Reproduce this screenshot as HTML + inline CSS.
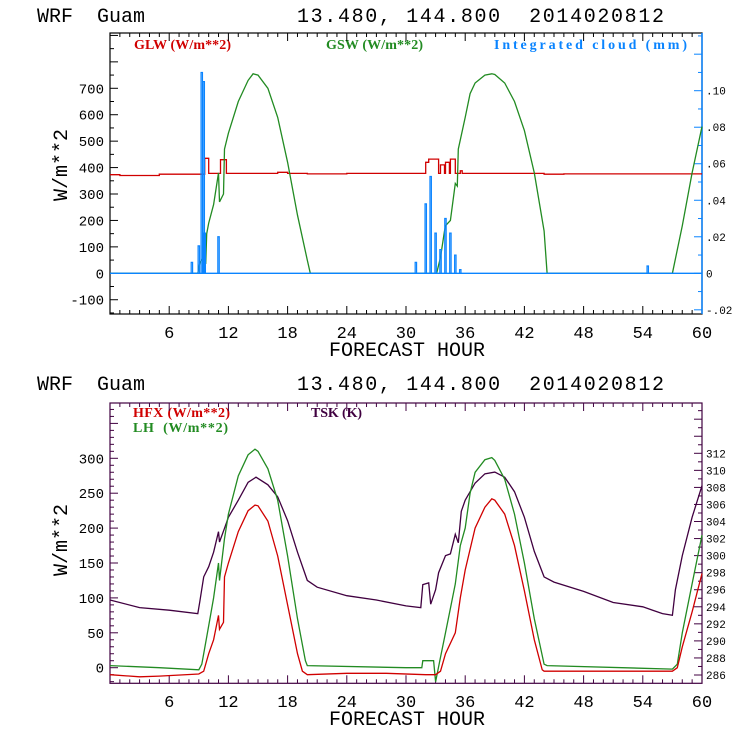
<!DOCTYPE html>
<html><head><meta charset="utf-8"><style>
body{margin:0;background:#fff}
svg{display:block}
text{font-family:"Liberation Mono",monospace;white-space:pre}
.t{font-size:20px;fill:#000}
.xl{font-size:17px;fill:#000}
.tk{font-size:14px;fill:#000}
.rk{font-size:11px}
.lg{font-size:14px;font-family:"Liberation Serif",serif;font-weight:bold}
</style></head><body>
<svg id="s" width="740" height="740" viewBox="0 0 740 740">
<text class="t" x="37" y="22">WRF  Guam</text>
<text class="t" x="297" y="22" textLength="367">13.480, 144.800  2014020812</text>
<text class="t" x="37" y="390">WRF  Guam</text>
<text class="t" x="297" y="390" textLength="367">13.480, 144.800  2014020812</text>
<text class="t" x="407" y="356" text-anchor="middle">FORECAST HOUR</text>
<text class="t" x="407" y="725" text-anchor="middle">FORECAST HOUR</text>
<text class="t" transform="translate(67,165) rotate(-90)" text-anchor="middle">W/m**2</text>
<text class="t" transform="translate(67,540) rotate(-90)" text-anchor="middle">W/m**2</text>
<text class="lg" x="134" y="49" textLength="97" fill="#d00000">GLW (W/m**2)</text>
<text class="lg" x="326" y="49" textLength="97" fill="#228b22">GSW (W/m**2)</text>
<text class="lg" x="494" y="49" textLength="193" fill="#0a84ff">Integrated cloud (mm)</text>
<text class="lg" x="133" y="417" textLength="97" fill="#d00000">HFX (W/m**2)</text>
<text class="lg" x="133" y="432" textLength="95" fill="#228b22">LH  (W/m**2)</text>
<text class="lg" x="311" y="417" textLength="51" fill="#400040">TSK (K)</text>
</svg>
<script>
const xTicks=[6,12,18,24,30,36,42,48,54,60];
const gswH=[0,8.9,9.1,9.5,9.7,9.8,10,10.5,11,11.1,11.5,11.6,12,13,14,14.5,15,16,17,18,19,20,20.3,33.1,33.5,33.9,34,34.5,35,35.2,35.3,36,36.5,37,38,38.7,39,40,41,42,43,44,44.3,57,58,59,60];
const gswV=[0,0,40,60,35,150,190,260,380,270,300,470,530,650,730,755,750,700,590,420,220,50,0,0,60,160,180,200,340,330,470,590,680,720,750,755,752,720,650,540,380,160,0,0,180,380,555];
const glwH=[0,1,5,9.6,10,11.2,11.8,17,18,20,24,32,32.3,33.3,33.5,33.9,34,34.4,34.5,35,35.5,35.7,44,46,60];
const glwV=[373,370,375,435,378,430,378,382,378,376,378,420,432,378,410,378,420,378,432,378,388,378,375,376,376];
const cldH=[8.3,9.0,9.3,9.5,9.6,11.0,31.0,32.0,32.5,33.0,33.5,34.0,34.5,35.0,35.5,54.5];
const cldV=[0.006,0.015,0.11,0.105,0.022,0.02,0.006,0.038,0.053,0.022,0.013,0.03,0.022,0.01,0.002,0.004];
const hfxH=[0,3,5,9,9.5,10,10.5,11,11.1,11.5,11.6,12,13,14,14.7,15,16,17,18,19,19.5,20,24,28,32,33,33.5,34,35,35.5,36,37,38,38.7,39,40,41,42,43,43.8,44,57,57.5,58,59,60];
const hfxV=[-10,-13,-12,-9,-5,20,40,75,55,65,130,150,195,225,233,232,210,160,90,20,-5,-10,-8,-8,-10,-10,-5,20,50,100,140,200,230,242,240,220,175,110,40,-3,-5,-5,0,30,80,135];
const lhH=[0,5,9,9.3,9.5,10,10.5,11,11.1,11.6,12,13,14,14.7,15,16,17,18,19,19.8,20,30,31.6,31.7,32.8,33,33.5,34,34.5,35,35.5,36,36.5,37,38,38.7,39,40,41,42,43,44,44.3,57,57.5,58,59,60];
const lhV=[3,0,-3,5,20,60,100,150,125,185,220,275,305,313,310,285,240,160,70,10,3,0,0,10,10,-20,15,50,85,120,175,200,250,280,298,301,297,270,220,150,70,5,3,-2,5,50,120,190];
const tskH=[0,3,6,8.9,9.1,9.5,10,10.5,11,11.1,11.6,12,13,14,14.8,16,17,18,19,20,21,24,27,30,31.5,31.7,32.3,32.5,33,33.3,34,34.5,35,35.3,35.6,36,37,38,39,40,41,42,43,44,45,48,51,54,55,56,57,57.3,58,59,60];
const tskV=[294.8,293.9,293.6,293.2,294.6,297.5,298.7,300.4,302.8,301.6,303.2,304.5,306.5,308.6,309.2,308.3,306.9,304.1,300.4,297.1,296.3,295.3,294.8,294.1,293.9,296.6,296.8,294.3,296,298,300,300.2,302.5,301.5,305.2,306.5,308.5,309.6,309.8,309.2,307.5,304.5,300.5,297.5,296.9,295.8,294.5,294,293.6,293.2,293,296,300,304.5,308.2];
const topYTicks=[-100,0,100,200,300,400,500,600,700];
const cldTicks=[-0.02,0,0.02,0.04,0.06,0.08,0.10];
const cldLabels=["-.02","0",".02",".04",".06",".08",".10"];
const botYTicks=[0,50,100,150,200,250,300];
const tskTicks=[286,288,290,292,294,296,298,300,302,304,306,308,310,312];
const S=document.getElementById('s'),NS='http://www.w3.org/2000/svg';
function mk(t,a,p){const e=document.createElementNS(NS,t);for(const k in a)e.setAttribute(k,a[k]);(p||S).appendChild(e);return e;}
const L=110,R=702;
const X=h=>L+(R-L)*h/60;
const P1={top:33,bot:314,y0:273.3,k:0.2643};
const Y1=v=>P1.y0-v*P1.k;
const C1=v=>P1.y0-v*1826;
const P2={top:403,bot:683.3};
const Y2=v=>667.7-v*0.698;
const T2=v=>675-(v-286)*8.527;
function line(hs,vs,f,col,name,step){
  let d='';hs.forEach((h,i)=>{
    if(step&&i)d+='L'+X(h).toFixed(1)+' '+f(vs[i-1]).toFixed(1);
    d+=(i?'L':'M')+X(h).toFixed(1)+' '+f(vs[i]).toFixed(1);});
  const e=mk('path',{d:d,fill:'none',stroke:col,'stroke-width':1.3});
  
  
}
function frame(top,bot,col,name){
  const e=mk('rect',{x:L,y:top,width:R-L,height:bot-top,fill:'none',stroke:col,'stroke-width':1.2});
  
  
  for(let h=1;h<60;h++){const len=h%6==0?8:4;
    mk('line',{x1:X(h),x2:X(h),y1:bot,y2:bot-len,stroke:col});
    mk('line',{x1:X(h),x2:X(h),y1:top,y2:top+len,stroke:col});}
}
function xlabels(y,name){xTicks.forEach(h=>{const t=mk('text',{x:X(h),y:y,'text-anchor':'middle',class:'xl'});t.textContent=h;
  
  });}
frame(P1.top,P1.bot,'#000','top-plot-frame');
mk('line',{x1:R,x2:R,y1:P1.top,y2:P1.bot,stroke:'#0a84ff','stroke-width':1.5});
for(let v=-150;v<=900;v+=50){if(Y1(v)<P1.top)break;mk('line',{x1:L,x2:L+(v%100==0?8:4),y1:Y1(v),y2:Y1(v),stroke:'#000'});}
topYTicks.forEach(v=>{const t=mk('text',{x:L-6,y:Y1(v)+5,'text-anchor':'end',class:'tk'});t.textContent=v;
  
  });
for(let i=-2;i<=13;i++){const v=i/100;const y=C1(v);if(y<P1.top)break;mk('line',{x1:R,x2:R-(i%2==0?8:4),y1:y,y2:y,stroke:'#0a84ff'});}
cldTicks.forEach((v,i)=>{const t=mk('text',{x:R+4,y:C1(v)+4,class:'rk',fill:'#000'});t.textContent=cldLabels[i];
  
  });
xlabels(338,'top-x-tick-label');
line(glwH,glwV,Y1,'#d00000','glw-line',true);
line(gswH,gswV,Y1,'#228b22','gsw-line');
mk('line',{x1:L,x2:R,y1:C1(0),y2:C1(0),stroke:'#0a84ff','stroke-width':1.3});
cldH.forEach((h,i)=>{const e=mk('path',{d:'M'+(X(h)-0.7)+' '+C1(0)+'L'+(X(h)-0.7)+' '+C1(cldV[i])+'L'+(X(h)+0.7)+' '+C1(cldV[i])+'L'+(X(h)+0.7)+' '+C1(0),fill:'none',stroke:'#0a84ff','stroke-width':1.2});
  
  });
frame(P2.top,P2.bot,'#400040','bottom-plot-frame');
for(let v=-20;v<=370;v+=10){const y=Y2(v);if(y<P2.top||y>P2.bot)continue;mk('line',{x1:L,x2:L+(v%50==0?8:4),y1:y,y2:y,stroke:'#400040'});}
botYTicks.forEach(v=>{const t=mk('text',{x:L-6,y:Y2(v)+5,'text-anchor':'end',class:'tk'});t.textContent=v;
  
  });
for(let v=285;v<=318;v++){const y=T2(v);if(y<P2.top||y>P2.bot)continue;mk('line',{x1:R,x2:R-(v%2==0?8:4),y1:y,y2:y,stroke:'#400040'});}
tskTicks.forEach(v=>{const t=mk('text',{x:R+4,y:T2(v)+4,class:'rk',fill:'#000'});t.textContent=v;
  
  });
xlabels(707,'bottom-x-tick-label');
line(tskH,tskV,T2,'#400040','tsk-line');
line(lhH,lhV,Y2,'#228b22','lh-line');
line(hfxH,hfxV,Y2,'#d00000','hfx-line');
</script>
</body></html>
